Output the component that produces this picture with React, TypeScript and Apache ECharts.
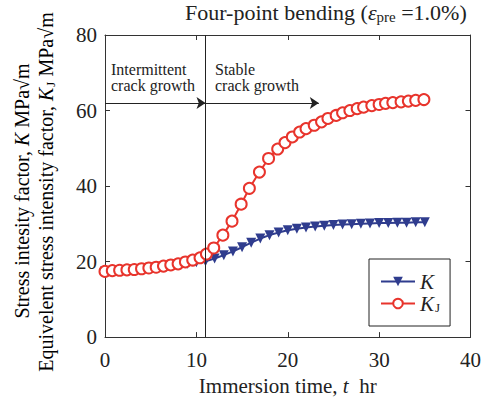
import React, { useEffect, useRef } from "react";
import * as echarts from "echarts";

const kTime = [0, 1, 2, 3, 4, 5, 6, 7, 8, 9, 10, 11, 12, 13, 14, 15, 16, 17, 18, 19, 20, 21, 22, 23, 24, 25, 26, 27, 28, 29, 30, 31, 32, 33, 34, 35];
const kValues = [17.4, 17.6, 17.7, 17.9, 18.0, 18.2, 18.5, 18.8, 19.1, 19.4, 19.8, 20.1, 20.8, 21.7, 22.7, 23.8, 25.0, 26.1, 27.0, 27.7, 28.3, 28.7, 29.0, 29.3, 29.5, 29.7, 29.8, 29.9, 30.0, 30.1, 30.2, 30.2, 30.3, 30.3, 30.4, 30.4];

const kjTime = [0, 0.8, 1.6, 2.4, 3.2, 4.0, 4.8, 5.6, 6.4, 7.2, 8.0, 8.8, 9.6, 10.4, 11.1, 11.9, 12.9, 13.9, 14.9, 15.8, 16.9, 17.9, 18.9, 19.7, 20.5, 21.3, 22.0, 22.9, 23.7, 24.4, 25.3, 26.0, 26.8, 27.6, 28.3, 29.2, 30.0, 30.7, 31.5, 32.4, 33.2, 34.0, 34.9];
const kjValues = [17.4, 17.6, 17.7, 17.8, 17.9, 18.1, 18.3, 18.5, 18.8, 19.1, 19.4, 19.9, 20.4, 21.0, 22.0, 23.6, 27.0, 30.7, 35.2, 39.4, 43.7, 47.3, 49.8, 51.5, 53.0, 54.3, 55.2, 56.1, 57.0, 57.9, 58.7, 59.4, 60.0, 60.5, 60.9, 61.3, 61.6, 61.9, 62.1, 62.3, 62.5, 62.7, 62.9];

const xTicks = { min: 0, max: 40, interval: 10 };
const yTicks = { min: 0, max: 80, interval: 20 };
const stageBoundary = 11;
const arrowLevel = 62;
const stableArrowEnd = 23.4;

const SERIF = "'Liberation Serif', 'Times New Roman', serif";
const INK = "#222";
const RED = "#e8342c";
const BLUE = "#2f3c8e";
const FS = 21;
const YFS = 20;

export default function App() {
  const ref = useRef<HTMLDivElement>(null);

  useEffect(() => {
    if (!ref.current) return;
    const chart = echarts.init(ref.current, undefined, { renderer: "svg" });

    const axisLine = { show: true, onZero: false, lineStyle: { color: "#333", width: 1 } };
    const tick = { show: true, inside: true, length: 5, lineStyle: { color: "#333" } };
    const labelStyle = { fontFamily: SERIF, fontSize: FS, color: INK };

    const yRich = {
      n: { fontFamily: SERIF, fontSize: YFS, color: INK },
      i: { fontFamily: SERIF, fontSize: YFS, fontStyle: "italic", color: INK },
      s: { fontFamily: SERIF, fontSize: 13, color: INK, padding: [8, 0, 0, 1] },
    };

    chart.setOption({
      animation: false,
      backgroundColor: "#fff",
      title: {
        text: "{a|Four-point bending (}{e|ε}{s|pre}{a| =1.0%)}",
        left: 185,
        top: 0,
        padding: 0,
        textStyle: {
          fontWeight: "normal",
          rich: {
            a: { fontFamily: SERIF, fontSize: 22, fontWeight: "normal", color: INK },
            e: { fontFamily: SERIF, fontSize: 22, fontStyle: "italic", fontWeight: "normal", color: INK },
            s: { fontFamily: SERIF, fontSize: 15, fontWeight: "normal", color: INK, padding: [9, 0, 0, 0] },
          },
        },
      },
      grid: { left: 105, right: 12, top: 35, bottom: 61 },
      legend: {
        orient: "vertical",
        left: 369,
        top: 259,
        padding: [12, 10, 12, 11],
        itemGap: 1,
        itemWidth: 34,
        itemHeight: 12,
        borderColor: "#222",
        borderWidth: 1,
        backgroundColor: "#fff",
        data: ["K", "KJ"],
        formatter: (name: string) => (name === "K" ? "{i|K}" : "{i|K}{s|J}"),
        textStyle: {
          rich: {
            i: { fontFamily: SERIF, fontSize: FS, fontStyle: "italic", color: INK, lineHeight: 21 },
            s: { fontFamily: SERIF, fontSize: 13, color: INK, padding: [8, 0, 0, 1] },
          },
        },
      },
      xAxis: [
        {
          type: "value",
          position: "bottom",
          ...xTicks,
          axisLine,
          axisTick: tick,
          splitLine: { show: false },
          axisLabel: { ...labelStyle, margin: 12 },
          name: "{n|Immersion time, }{i|t}{n|  hr}",
          nameLocation: "middle",
          nameGap: 33,
          nameTextStyle: {
            rich: {
              n: { fontFamily: SERIF, fontSize: FS, color: INK },
              i: { fontFamily: SERIF, fontSize: FS, fontStyle: "italic", color: INK },
            },
          },
        },
        {
          type: "value",
          position: "top",
          ...xTicks,
          axisLine,
          axisTick: tick,
          splitLine: { show: false },
          axisLabel: { show: false },
        },
      ],
      yAxis: [
        {
          type: "value",
          position: "left",
          ...yTicks,
          axisLine,
          axisTick: tick,
          splitLine: { show: false },
          axisLabel: { ...labelStyle, margin: 8 },
        },
        {
          type: "value",
          position: "right",
          ...yTicks,
          axisLine,
          axisTick: tick,
          splitLine: { show: false },
          axisLabel: { show: false },
        },
      ],
      graphic: [
        {
          type: "text",
          x: 22,
          y: 191,
          rotation: Math.PI / 2,
          style: {
            text: "{n|Stress intesity factor, }{i|K}{n| MPa√m}",
            align: "center",
            verticalAlign: "middle",
            rich: yRich,
          },
        },
        {
          type: "text",
          x: 46,
          y: 192,
          rotation: Math.PI / 2,
          style: {
            text: "{n|Equivelent stress intensity factor, }{i|K}{s|J}{n| MPa√m}",
            align: "center",
            verticalAlign: "middle",
            rich: yRich,
          },
        },
        {
          type: "text",
          left: 111,
          top: 61,
          style: {
            text: "Intermittent\ncrack growth",
            fontFamily: SERIF,
            fontSize: 16,
            lineHeight: 16,
            fill: INK,
          },
        },
        {
          type: "text",
          left: 215,
          top: 61,
          style: {
            text: "Stable\ncrack growth",
            fontFamily: SERIF,
            fontSize: 16,
            lineHeight: 16,
            fill: INK,
          },
        },
      ],
      series: [
        {
          name: "K",
          type: "line",
          data: kTime.map((t, i) => [t, kValues[i]]),
          symbol: "triangle",
          symbolRotate: 180,
          symbolSize: 10,
          lineStyle: { color: BLUE, width: 2 },
          itemStyle: { color: BLUE },
          z: 2,
          markLine: {
            silent: true,
            symbol: "none",
            label: { show: false },
            lineStyle: { color: INK, width: 1, type: "solid" },
            data: [{ xAxis: stageBoundary }],
          },
        },
        {
          name: "KJ",
          type: "line",
          data: kjTime.map((t, i) => [t, kjValues[i]]),
          symbol: "emptyCircle",
          symbolSize: 11,
          lineStyle: { color: RED, width: 2 },
          itemStyle: { color: RED, borderWidth: 2 },
          z: 3,
          markLine: {
            silent: true,
            symbol: ["none", "arrow"],
            symbolSize: 9,
            label: { show: false },
            lineStyle: { color: INK, width: 1, type: "solid" },
            data: [
              [{ coord: [0, arrowLevel] }, { coord: [stageBoundary, arrowLevel] }],
              [{ coord: [stageBoundary, arrowLevel] }, { coord: [stableArrowEnd, arrowLevel] }],
            ],
          },
        },
      ],
    });

    return () => chart.dispose();
  }, []);

  return (
    <div
      ref={ref}
      style={{ position: "fixed", left: 0, top: 0, width: 484, height: 401, background: "#fff" }}
    />
  );
}
